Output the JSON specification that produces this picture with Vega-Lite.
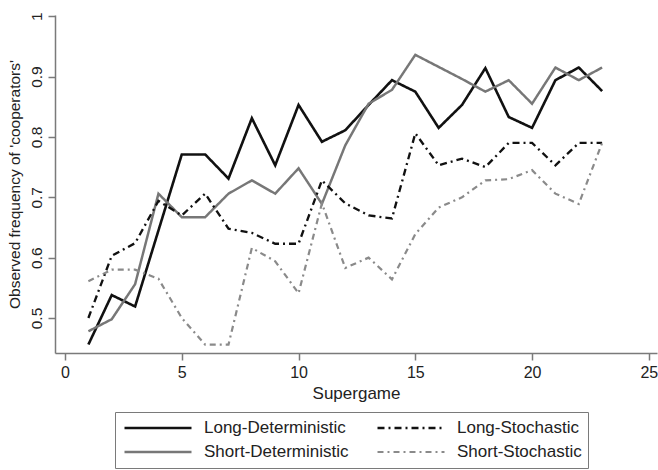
{
  "$schema": "https://vega.github.io/schema/vega-lite/v6.json",
  "width": 602,
  "height": 338,
  "autosize": {"type": "none"},
  "padding": {"left": 55, "top": 15, "right": 1, "bottom": 117},
  "background": "white",
  "config": {
    "view": {"stroke": null},
    "font": "Liberation Sans",
    "axis": {
      "grid": false,
      "domainColor": "#7a7a7a",
      "domainWidth": 1.5,
      "tickColor": "#7a7a7a",
      "tickWidth": 1.5,
      "tickSize": 7,
      "labelColor": "#222222",
      "titleColor": "#222222",
      "labelFont": "Liberation Sans",
      "titleFont": "Liberation Sans",
      "titleFontWeight": "normal"
    }
  },
  "datasets": {
    "d": [
      {"supergame": 1, "treatment": "Long-Deterministic", "value": 0.456},
      {"supergame": 2, "treatment": "Long-Deterministic", "value": 0.538},
      {"supergame": 3, "treatment": "Long-Deterministic", "value": 0.519},
      {"supergame": 4, "treatment": "Long-Deterministic", "value": 0.645},
      {"supergame": 5, "treatment": "Long-Deterministic", "value": 0.771},
      {"supergame": 6, "treatment": "Long-Deterministic", "value": 0.771},
      {"supergame": 7, "treatment": "Long-Deterministic", "value": 0.731},
      {"supergame": 8, "treatment": "Long-Deterministic", "value": 0.831},
      {"supergame": 9, "treatment": "Long-Deterministic", "value": 0.753},
      {"supergame": 10, "treatment": "Long-Deterministic", "value": 0.853},
      {"supergame": 11, "treatment": "Long-Deterministic", "value": 0.792},
      {"supergame": 12, "treatment": "Long-Deterministic", "value": 0.811},
      {"supergame": 13, "treatment": "Long-Deterministic", "value": 0.853},
      {"supergame": 14, "treatment": "Long-Deterministic", "value": 0.894},
      {"supergame": 15, "treatment": "Long-Deterministic", "value": 0.875},
      {"supergame": 16, "treatment": "Long-Deterministic", "value": 0.815},
      {"supergame": 17, "treatment": "Long-Deterministic", "value": 0.853},
      {"supergame": 18, "treatment": "Long-Deterministic", "value": 0.914},
      {"supergame": 19, "treatment": "Long-Deterministic", "value": 0.833},
      {"supergame": 20, "treatment": "Long-Deterministic", "value": 0.815},
      {"supergame": 21, "treatment": "Long-Deterministic", "value": 0.894},
      {"supergame": 22, "treatment": "Long-Deterministic", "value": 0.915},
      {"supergame": 23, "treatment": "Long-Deterministic", "value": 0.876},
      {"supergame": 1, "treatment": "Short-Deterministic", "value": 0.478},
      {"supergame": 2, "treatment": "Short-Deterministic", "value": 0.498},
      {"supergame": 3, "treatment": "Short-Deterministic", "value": 0.556},
      {"supergame": 4, "treatment": "Short-Deterministic", "value": 0.706},
      {"supergame": 5, "treatment": "Short-Deterministic", "value": 0.667},
      {"supergame": 6, "treatment": "Short-Deterministic", "value": 0.667},
      {"supergame": 7, "treatment": "Short-Deterministic", "value": 0.706},
      {"supergame": 8, "treatment": "Short-Deterministic", "value": 0.728},
      {"supergame": 9, "treatment": "Short-Deterministic", "value": 0.706},
      {"supergame": 10, "treatment": "Short-Deterministic", "value": 0.748},
      {"supergame": 11, "treatment": "Short-Deterministic", "value": 0.689},
      {"supergame": 12, "treatment": "Short-Deterministic", "value": 0.786},
      {"supergame": 13, "treatment": "Short-Deterministic", "value": 0.855},
      {"supergame": 14, "treatment": "Short-Deterministic", "value": 0.878},
      {"supergame": 15, "treatment": "Short-Deterministic", "value": 0.936},
      {"supergame": 16, "treatment": "Short-Deterministic", "value": 0.916},
      {"supergame": 17, "treatment": "Short-Deterministic", "value": 0.896},
      {"supergame": 18, "treatment": "Short-Deterministic", "value": 0.875},
      {"supergame": 19, "treatment": "Short-Deterministic", "value": 0.894},
      {"supergame": 20, "treatment": "Short-Deterministic", "value": 0.855},
      {"supergame": 21, "treatment": "Short-Deterministic", "value": 0.915},
      {"supergame": 22, "treatment": "Short-Deterministic", "value": 0.894},
      {"supergame": 23, "treatment": "Short-Deterministic", "value": 0.915},
      {"supergame": 1, "treatment": "Long-Stochastic", "value": 0.5},
      {"supergame": 2, "treatment": "Long-Stochastic", "value": 0.603},
      {"supergame": 3, "treatment": "Long-Stochastic", "value": 0.624},
      {"supergame": 4, "treatment": "Long-Stochastic", "value": 0.694},
      {"supergame": 5, "treatment": "Long-Stochastic", "value": 0.67},
      {"supergame": 6, "treatment": "Long-Stochastic", "value": 0.706},
      {"supergame": 7, "treatment": "Long-Stochastic", "value": 0.648},
      {"supergame": 8, "treatment": "Long-Stochastic", "value": 0.641},
      {"supergame": 9, "treatment": "Long-Stochastic", "value": 0.623},
      {"supergame": 10, "treatment": "Long-Stochastic", "value": 0.623},
      {"supergame": 11, "treatment": "Long-Stochastic", "value": 0.728},
      {"supergame": 12, "treatment": "Long-Stochastic", "value": 0.69},
      {"supergame": 13, "treatment": "Long-Stochastic", "value": 0.67},
      {"supergame": 14, "treatment": "Long-Stochastic", "value": 0.665},
      {"supergame": 15, "treatment": "Long-Stochastic", "value": 0.806},
      {"supergame": 16, "treatment": "Long-Stochastic", "value": 0.753},
      {"supergame": 17, "treatment": "Long-Stochastic", "value": 0.764},
      {"supergame": 18, "treatment": "Long-Stochastic", "value": 0.75},
      {"supergame": 19, "treatment": "Long-Stochastic", "value": 0.79},
      {"supergame": 20, "treatment": "Long-Stochastic", "value": 0.79},
      {"supergame": 21, "treatment": "Long-Stochastic", "value": 0.753},
      {"supergame": 22, "treatment": "Long-Stochastic", "value": 0.79},
      {"supergame": 23, "treatment": "Long-Stochastic", "value": 0.79},
      {"supergame": 1, "treatment": "Short-Stochastic", "value": 0.561},
      {"supergame": 2, "treatment": "Short-Stochastic", "value": 0.58},
      {"supergame": 3, "treatment": "Short-Stochastic", "value": 0.58},
      {"supergame": 4, "treatment": "Short-Stochastic", "value": 0.565},
      {"supergame": 5, "treatment": "Short-Stochastic", "value": 0.5},
      {"supergame": 6, "treatment": "Short-Stochastic", "value": 0.456},
      {"supergame": 7, "treatment": "Short-Stochastic", "value": 0.456},
      {"supergame": 8, "treatment": "Short-Stochastic", "value": 0.616},
      {"supergame": 9, "treatment": "Short-Stochastic", "value": 0.594},
      {"supergame": 10, "treatment": "Short-Stochastic", "value": 0.541},
      {"supergame": 11, "treatment": "Short-Stochastic", "value": 0.69},
      {"supergame": 12, "treatment": "Short-Stochastic", "value": 0.583},
      {"supergame": 13, "treatment": "Short-Stochastic", "value": 0.6},
      {"supergame": 14, "treatment": "Short-Stochastic", "value": 0.564},
      {"supergame": 15, "treatment": "Short-Stochastic", "value": 0.639},
      {"supergame": 16, "treatment": "Short-Stochastic", "value": 0.683},
      {"supergame": 17, "treatment": "Short-Stochastic", "value": 0.7},
      {"supergame": 18, "treatment": "Short-Stochastic", "value": 0.728},
      {"supergame": 19, "treatment": "Short-Stochastic", "value": 0.73},
      {"supergame": 20, "treatment": "Short-Stochastic", "value": 0.745},
      {"supergame": 21, "treatment": "Short-Stochastic", "value": 0.706},
      {"supergame": 22, "treatment": "Short-Stochastic", "value": 0.689},
      {"supergame": 23, "treatment": "Short-Stochastic", "value": 0.79}
    ]
  },
  "data": {"name": "d"},
  "mark": {"type": "line", "strokeCap": "butt", "strokeJoin": "miter"},
  "encoding": {
    "x": {
      "field": "supergame",
      "type": "quantitative",
      "scale": {"domain": [-0.43, 25.35], "nice": false, "zero": false},
      "axis": {
        "values": [0, 5, 10, 15, 20, 25],
        "title": "Supergame",
        "labelFontSize": 16,
        "titleFontSize": 17,
        "labelPadding": 4,
        "titlePadding": 5,
        "labelFlush": false
      }
    },
    "y": {
      "field": "value",
      "type": "quantitative",
      "scale": {"domain": [0.442, 1.002], "nice": false, "zero": false},
      "axis": {
        "values": [0.5, 0.6, 0.7, 0.8, 0.9, 1],
        "format": ".1~f",
        "title": "Observed frequency of 'cooperators'",
        "labelAngle": -90,
        "labelAlign": "center",
        "labelBaseline": "bottom",
        "labelFontSize": 15.5,
        "titleFontSize": 15.5,
        "labelPadding": 4,
        "titlePadding": 7,
        "labelFlush": false
      }
    },
    "color": {
      "field": "treatment",
      "type": "nominal",
      "scale": {
        "domain": ["Long-Deterministic", "Short-Deterministic", "Long-Stochastic", "Short-Stochastic"],
        "range": ["#111111", "#777777", "#111111", "#8a8a8a"]
      },
      "legend": {
        "title": null,
        "orient": "none",
        "legendX": 60,
        "legendY": 397,
        "columns": 2,
        "symbolType": "stroke",
        "symbolSize": 4489,
        "symbolOffset": 2,
        "labelFontSize": 17,
        "labelFont": "Liberation Sans",
        "labelColor": "#222222",
        "labelOffset": 11,
        "columnPadding": 25,
        "rowPadding": 4,
        "clipHeight": 20,
        "padding": 6,
        "strokeColor": "#7a7a7a",
        "fillColor": "white",
        "labelLimit": 300
      }
    },
    "strokeDash": {
      "field": "treatment",
      "type": "nominal",
      "scale": {
        "domain": ["Long-Deterministic", "Short-Deterministic", "Long-Stochastic", "Short-Stochastic"],
        "range": [[1, 0], [1, 0], [7, 4, 2, 4], [6, 4, 2, 4]]
      }
    },
    "strokeWidth": {
      "field": "treatment",
      "type": "nominal",
      "scale": {
        "domain": ["Long-Deterministic", "Short-Deterministic", "Long-Stochastic", "Short-Stochastic"],
        "range": [2.6, 2.2, 2.6, 2.2]
      }
    }
  }
}
